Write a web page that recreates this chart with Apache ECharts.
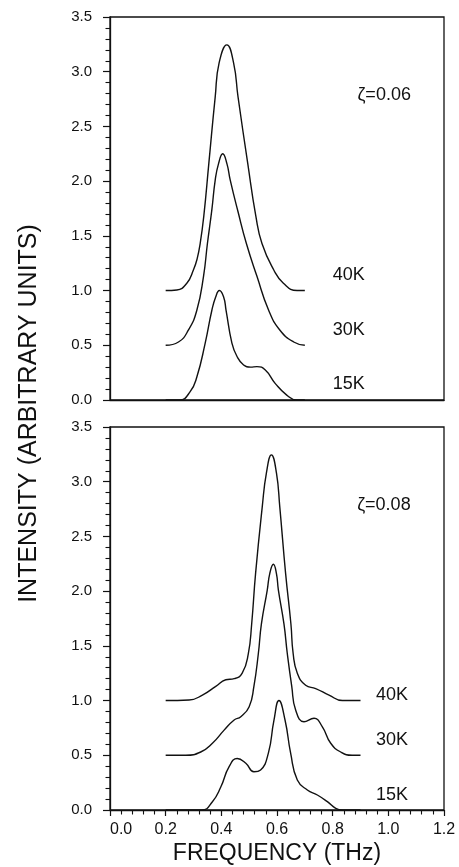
<!DOCTYPE html>
<html>
<head>
<meta charset="utf-8">
<script src="https://cdn.jsdelivr.net/npm/echarts@6/dist/echarts.min.js"></script>
<style>
html,body{margin:0;padding:0;background:#fff;}
#c{width:459px;height:867px;}
</style>
</head>
<body>
<div id="c"></div>
<script>
// ---- data (frequency in THz, intensity in arbitrary units) ----
const yTicks = [0.0, 0.5, 1.0, 1.5, 2.0, 2.5, 3.0, 3.5];
const xTicks = [0.0, 0.2, 0.4, 0.6, 0.8, 1.0, 1.2];

// top panel, zeta = 0.06
const top40F = [0.20,0.24,0.276,0.30,0.313,0.324,0.337,0.355,0.378,0.392,0.42,0.444,0.46,0.495,0.524,0.546,0.588,0.623,0.672,0.70];
const top40V = [1.00,1.005,1.067,1.19,1.29,1.43,1.68,2.16,2.77,3.08,3.245,3.08,2.77,2.16,1.68,1.43,1.19,1.067,1.0,1.0];
const top30F = [0.20,0.246,0.282,0.312,0.336,0.35,0.366,0.378,0.39,0.405,0.42,0.432,0.46,0.49,0.528,0.57,0.61,0.66,0.70];
const top30V = [0.50,0.53,0.64,0.82,1.13,1.43,1.74,2.01,2.16,2.25,2.16,2.01,1.72,1.43,1.13,0.82,0.64,0.53,0.50];
const top15F = [0.20,0.25,0.288,0.312,0.342,0.366,0.38,0.393,0.408,0.417,0.438,0.456,0.48,0.505,0.528,0.558,0.594,0.635,0.67,0.70];
const top15V = [0.00,0.00,0.076,0.21,0.52,0.82,0.944,1.00,0.944,0.82,0.52,0.40,0.32,0.30,0.305,0.274,0.15,0.045,0.0,0.0];

// bottom panel, zeta = 0.08
const bot40F = [0.20,0.284,0.332,0.38,0.416,0.446,0.475,0.497,0.509,0.523,0.547,0.562,0.58,0.598,0.61,0.631,0.650,0.658,0.673,0.703,0.739,0.787,0.835,0.90];
const bot40V = [1.00,1.005,1.05,1.13,1.19,1.20,1.25,1.43,1.70,2.16,2.77,3.08,3.245,3.08,2.77,2.16,1.70,1.43,1.25,1.14,1.11,1.05,1.0,1.0];
const bot30F = [0.20,0.272,0.326,0.368,0.41,0.446,0.47,0.50,0.517,0.533,0.544,0.565,0.574,0.587,0.598,0.605,0.625,0.637,0.653,0.667,0.697,0.733,0.763,0.793,0.829,0.87,0.90];
const bot30V = [0.50,0.50,0.53,0.61,0.73,0.823,0.853,0.944,1.13,1.43,1.70,2.01,2.16,2.246,2.16,2.01,1.70,1.43,1.13,0.914,0.807,0.838,0.76,0.61,0.53,0.50,0.50];
const bot15F = [0.20,0.33,0.368,0.398,0.428,0.457,0.488,0.517,0.541,0.569,0.589,0.607,0.629,0.649,0.673,0.709,0.745,0.781,0.811,0.835,0.90];
const bot15V = [0.00,0.00,0.076,0.21,0.396,0.47,0.427,0.35,0.366,0.52,0.82,1.00,0.82,0.52,0.274,0.183,0.137,0.076,0.015,0.0,0.0];

// annotations [panel, f, v, text]
const annPanel = [0,0,0,0,1,1,1,1];
const annF = [0.889,0.80,0.80,0.80,0.888,0.956,0.956,0.956];
const annV = [2.79,1.14,0.64,0.146,2.79,1.05,0.64,0.137];
const annText = ['ζ=0.06','40K','30K','15K','ζ=0.08','40K','30K','15K'];

const yName = 'INTENSITY (ARBITRARY UNITS)';
const xName = 'FREQUENCY (THz)';

// ---- chart ----
const FONT = '"Liberation Sans", Arial, sans-serif';
const INK = '#111';
function zip(a, b) { return a.map((x, i) => [x, b[i]]); }

const chart = echarts.init(document.getElementById('c'), null, {renderer: 'canvas'});

function yAxis(gi) {
  return {
    type: 'value', gridIndex: gi, min: 0, max: 3.5, interval: 0.5,
    axisLine: {show: true, lineStyle: {color: INK, width: 1.3}},
    axisTick: {show: true, length: 7, lineStyle: {color: INK, width: 1.2}},
    minorTick: {show: true, splitNumber: 5, length: 4.5, lineStyle: {color: INK, width: 1.1}},
    splitLine: {show: false}, minorSplitLine: {show: false},
    axisLabel: {color: INK, fontFamily: FONT, fontSize: 15, margin: 18,
      formatter: v => v.toFixed(1)}
  };
}

function series(gi, f, v) {
  return {
    type: 'line', xAxisIndex: gi, yAxisIndex: gi, data: zip(f, v),
    showSymbol: false, smooth: 0.5, silent: true,
    lineStyle: {color: INK, width: 1.4}
  };
}

const option = {
  animation: false,
  backgroundColor: '#fff',
  grid: [
    {left: 110, top: 17, width: 334, height: 383, show: true, borderColor: INK, borderWidth: 1.3, backgroundColor: 'transparent'},
    {left: 110, top: 427, width: 334, height: 383, show: true, borderColor: INK, borderWidth: 1.3, backgroundColor: 'transparent'}
  ],
  xAxis: [
    {type: 'value', gridIndex: 0, min: 0, max: 1.2, interval: 0.2,
     axisLine: {show: true, lineStyle: {color: INK, width: 1.3}},
     axisTick: {show: false}, axisLabel: {show: false}, splitLine: {show: false}},
    {type: 'value', gridIndex: 1, min: 0, max: 1.2, interval: 0.2,
     axisLine: {show: true, lineStyle: {color: INK, width: 1.3}},
     axisTick: {show: true, length: 6, lineStyle: {color: INK, width: 1.2}},
     minorTick: {show: true, splitNumber: 5, length: 4.5, lineStyle: {color: INK, width: 1.1}},
     splitLine: {show: false}, minorSplitLine: {show: false},
     axisLabel: {color: INK, fontFamily: FONT, fontSize: 16, margin: 12,
       alignMinLabel: 'left',
       formatter: v => v.toFixed(1)}}
  ],
  yAxis: [yAxis(0), yAxis(1)],
  series: [
    series(0, top40F, top40V), series(0, top30F, top30V), series(0, top15F, top15V),
    series(1, bot40F, bot40V), series(1, bot30F, bot30V), series(1, bot15F, bot15V)
  ]
};
chart.setOption(option);

const graphics = [];
annText.forEach((t, i) => {
  const p = chart.convertToPixel({gridIndex: annPanel[i]}, [annF[i], annV[i]]);
  graphics.push({type: 'text', x: p[0], y: p[1], silent: true,
    style: {text: t, fill: INK, font: '18px ' + FONT, textAlign: 'left', textVerticalAlign: 'middle'}});
});
// axis titles, centred on the plotting area
const g0 = chart.convertToPixel({gridIndex: 0}, [0, 3.5]);
const g1 = chart.convertToPixel({gridIndex: 1}, [1.2, 0]);
graphics.push({type: 'text', x: 29, y: (g0[1] + g1[1]) / 2, rotation: Math.PI / 2, silent: true,
  style: {text: yName, fill: INK, font: '25px ' + FONT, textAlign: 'center', textVerticalAlign: 'middle'}});
const gx0 = chart.convertToPixel({gridIndex: 1}, [0, 0]);
graphics.push({type: 'text', x: (gx0[0] + g1[0]) / 2, y: g1[1] + 44, silent: true,
  style: {text: xName, fill: INK, font: '23px ' + FONT, textAlign: 'center', textVerticalAlign: 'middle'}});
chart.setOption({graphic: graphics});
</script>
</body>
</html>
